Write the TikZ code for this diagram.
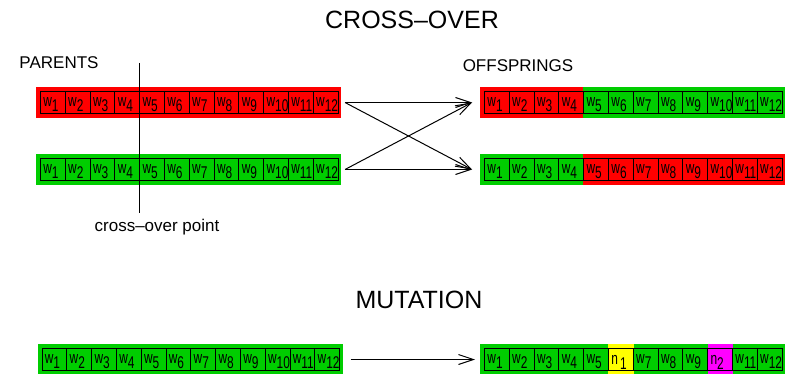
\documentclass[tikz,border=0pt]{standalone}
\usepackage{fontspec}
\setmainfont{Liberation Sans}
\usetikzlibrary{arrows.meta}
\definecolor{genered}{RGB}{255,0,0}
\definecolor{genegreen}{RGB}{0,205,0}
\definecolor{geneyellow}{RGB}{255,255,0}
\definecolor{genemagenta}{RGB}{255,0,255}
\newcommand{\wgene}[1]{\scalebox{0.7}[1]{w\raisebox{-5pt}[0pt][0pt]{#1}}}
\newcommand{\ngene}[2]{\scalebox{0.7}[1]{n#2\raisebox{-5pt}[0pt][0pt]{#1}}}
\tikzset{
  band/.style={minimum width=305pt, minimum height=31pt, inner sep=0pt, outer sep=0pt},
  gene/.style={draw=black, line width=0.8pt, anchor=west, text width=18.8pt,
    inner xsep=3pt, inner ysep=0pt, minimum height=22pt, align=left,
    font=\fontsize{17pt}{17pt}\selectfont},
  title/.style={font=\fontsize{25pt}{25pt}\selectfont},
  label/.style={font=\fontsize{17pt}{17pt}\selectfont},
  arr/.style={-{Straight Barb[length=15pt,width=10pt]}, line width=1pt}
}
\begin{document}
\begin{tikzpicture}[x=1pt, y=-1pt]
  \useasboundingbox (0,0) rectangle (797,374);
  \node[title] (crosstitle) at (412,20) {CROSS--OVER};
  \node[title] (muttitle) at (419,300) {MUTATION};
  \node[label] (parents) at (59,63) {PARENTS};
  \node[label] (offsprings) at (518,66) {OFFSPRINGS};
  \node[label] (cutlabel) at (157,227) {cross--over point};

  \node[band, fill=genered] (pa) at (188.5,102.5) {};
  \node[band, fill=genegreen] (pb) at (188.5,169.5) {};
  \node[band] (oa) at (632.5,102.5) {};
  \node[band] (ob) at (632.5,169.5) {};
  \node[band, fill=genegreen] (ma) at (190,359.5) {};
  \node[band, fill=genegreen] (mb) at (632.5,359.5) {};

  \fill[genered] (oa.north west) rectangle ([xshift=103pt]oa.south west);
  \fill[genegreen] ([xshift=103pt]oa.north west) rectangle (oa.south east);
  \fill[genegreen] (ob.north west) rectangle ([xshift=103pt]ob.south west);
  \fill[genered] ([xshift=103pt]ob.north west) rectangle (ob.south east);
  \fill[geneyellow] ([xshift=128pt]mb.north west) rectangle ([xshift=154pt]mb.south west);
  \fill[genemagenta] ([xshift=228pt]mb.north west) rectangle ([xshift=253pt]mb.south west);

  \foreach \b in {pa,pb,oa,ob,ma}
    \foreach \i in {1,...,12}
      \node[gene] at ([xshift=4pt+(\i-1)*24.8pt]\b.west) {\wgene{\i}};
  \foreach \i in {1,2,3,4,5,7,8,9,11,12}
    \node[gene] at ([xshift=4pt+(\i-1)*24.8pt]mb.west) {\wgene{\i}};
  \node[gene] at ([xshift=4pt+5*24.8pt]mb.west) {\ngene{1}{\,}};
  \node[gene] at ([xshift=4pt+9*24.8pt]mb.west) {\ngene{2}{}};

  \coordinate (cuttop) at (139,63);
  \coordinate (cutbot) at (139,213);
  \draw[line width=1pt] (cuttop) -- (cutbot);

  \draw[arr] ([xshift=4pt]pa.east) -- ([xshift=-8pt]oa.west);
  \draw[arr] ([xshift=4pt]pa.east) -- ([xshift=-8pt]ob.west);
  \draw[arr] ([xshift=4pt]pb.east) -- ([xshift=-8pt]oa.west);
  \draw[arr] ([xshift=4pt]pb.east) -- ([xshift=-8pt]ob.west);
  \draw[arr] ([xshift=8pt]ma.east) -- ([xshift=-5pt]mb.west);
\end{tikzpicture}
\end{document}
